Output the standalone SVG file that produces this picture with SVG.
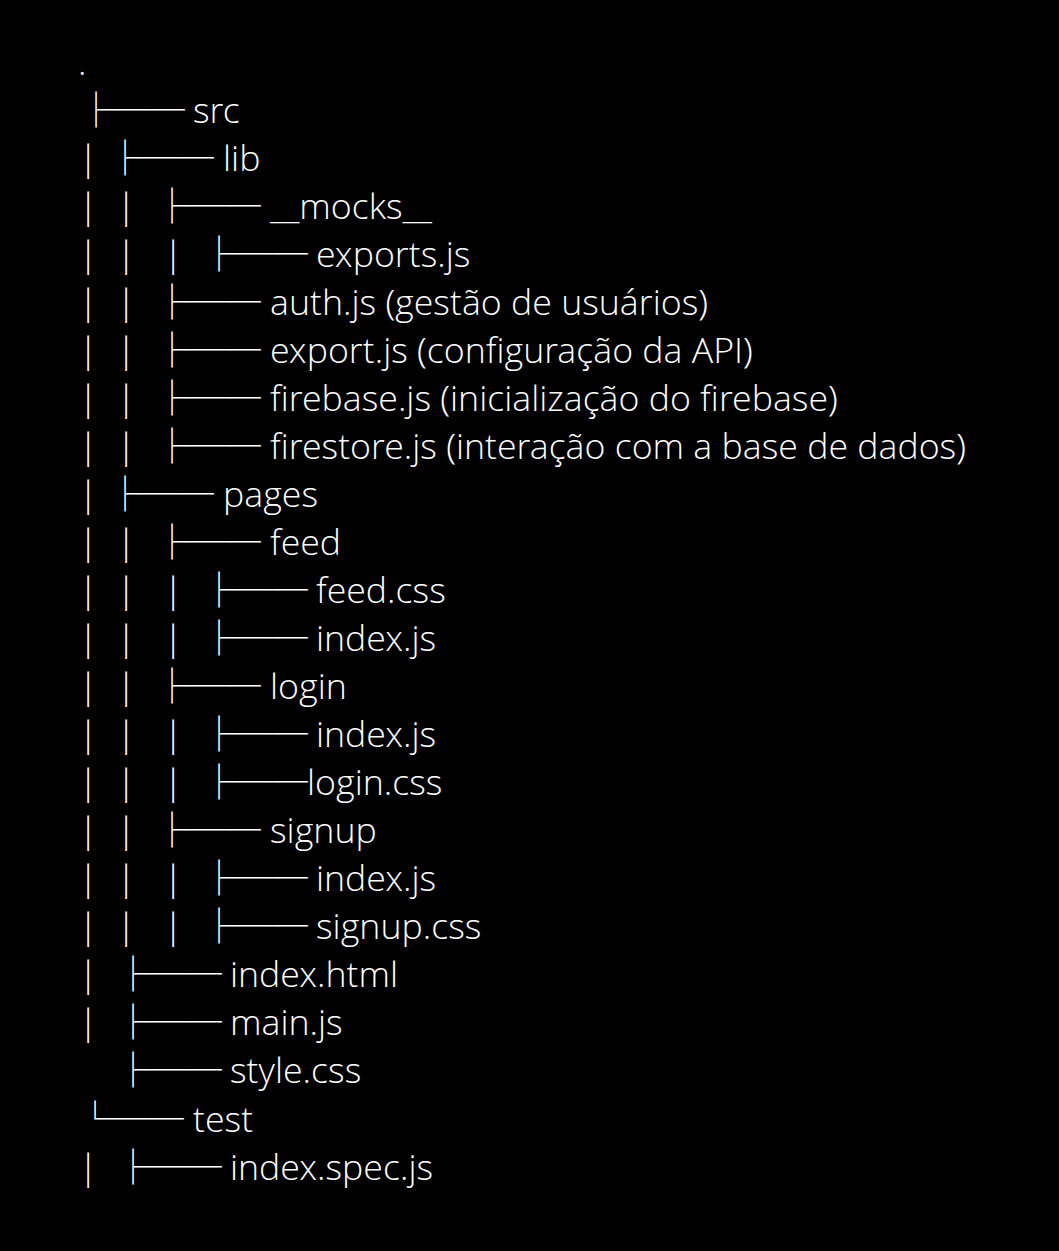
<svg xmlns="http://www.w3.org/2000/svg" width="1059" height="1251" viewBox="0 0 1059 1251">
<style>
.t{font-family:"Open Sans Light","Noto Sans","Open Sans","Liberation Sans",sans-serif;font-weight:300;font-size:35.7px;fill:#ffffff}
.b{font-family:"Noto Sans CJK JP","Noto Sans CJK SC","DejaVu Sans",sans-serif;font-weight:400;font-size:35.6px;fill:#ffffff}
.p{font-family:"Open Sans Light","Noto Sans","Open Sans","Liberation Sans",sans-serif;font-weight:300;font-size:35.5px;fill:#ffffff;text-anchor:middle}
</style>
<rect width="1059" height="1251" fill="#000000"/>
<g id="connectors">
<text class="b" x="78.2" y="122.5">├──</text>
<text class="p" x="88" y="170.5">|</text><text class="b" x="107.2" y="170.5">├──</text>
<text class="p" x="88" y="218.6">|</text><text class="p" x="126" y="218.6">|</text><text class="b" x="154.2" y="218.6">├──</text>
<text class="p" x="88" y="266.6">|</text><text class="p" x="126" y="266.6">|</text><text class="p" x="173" y="266.6">|</text><text class="b" x="201.2" y="266.6">├──</text>
<text class="p" x="88" y="314.7">|</text><text class="p" x="126" y="314.7">|</text><text class="b" x="154.2" y="314.7">├──</text>
<text class="p" x="88" y="362.7">|</text><text class="p" x="126" y="362.7">|</text><text class="b" x="154.2" y="362.7">├──</text>
<text class="p" x="88" y="410.8">|</text><text class="p" x="126" y="410.8">|</text><text class="b" x="154.2" y="410.8">├──</text>
<text class="p" x="88" y="458.8">|</text><text class="p" x="126" y="458.8">|</text><text class="b" x="154.2" y="458.8">├──</text>
<text class="p" x="88" y="506.9">|</text><text class="b" x="107.2" y="506.9">├──</text>
<text class="p" x="88" y="554.9">|</text><text class="p" x="126" y="554.9">|</text><text class="b" x="154.2" y="554.9">├──</text>
<text class="p" x="88" y="603">|</text><text class="p" x="126" y="603">|</text><text class="p" x="173" y="603">|</text><text class="b" x="201.2" y="603">├──</text>
<text class="p" x="88" y="651">|</text><text class="p" x="126" y="651">|</text><text class="p" x="173" y="651">|</text><text class="b" x="201.2" y="651">├──</text>
<text class="p" x="88" y="699">|</text><text class="p" x="126" y="699">|</text><text class="b" x="154.2" y="699">├──</text>
<text class="p" x="88" y="747.1">|</text><text class="p" x="126" y="747.1">|</text><text class="p" x="173" y="747.1">|</text><text class="b" x="201.2" y="747.1">├──</text>
<text class="p" x="88" y="795.1">|</text><text class="p" x="126" y="795.1">|</text><text class="p" x="173" y="795.1">|</text><text class="b" x="201.2" y="795.1">├──</text>
<text class="p" x="88" y="843.2">|</text><text class="p" x="126" y="843.2">|</text><text class="b" x="154.2" y="843.2">├──</text>
<text class="p" x="88" y="891.2">|</text><text class="p" x="126" y="891.2">|</text><text class="p" x="173" y="891.2">|</text><text class="b" x="201.2" y="891.2">├──</text>
<text class="p" x="88" y="939.3">|</text><text class="p" x="126" y="939.3">|</text><text class="p" x="173" y="939.3">|</text><text class="b" x="201.2" y="939.3">├──</text>
<text class="p" x="88" y="987.3">|</text><text class="b" x="115.2" y="987.3">├──</text>
<text class="p" x="88" y="1035.4">|</text><text class="b" x="115.2" y="1035.4">├──</text>
<text class="b" x="115.2" y="1083.4">├──</text>
<text class="b" x="77.2" y="1131.5">└──</text>
<text class="p" x="88" y="1179.5">|</text><text class="b" x="115.2" y="1179.5">├──</text>
</g>
<g id="root"><text class="t" x="78" y="74.5">.</text></g>
<g id="src"><text class="t" x="193" y="122.5">src</text></g>
<g id="lib"><text class="t" x="223" y="170.5">lib</text></g>
<g id="mocks"><text class="t" x="270" y="218.6">__mocks__</text></g>
<g id="mocks-exports"><text class="t" x="316" y="266.6">exports.js</text></g>
<g id="auth"><text class="t" x="270" y="314.7">auth.js (gestão de usuários)</text></g>
<g id="export"><text class="t" x="270" y="362.7">export.js (configuração da API)</text></g>
<g id="firebase"><text class="t" x="270" y="410.8">firebase.js (inicialização do firebase)</text></g>
<g id="firestore"><text class="t" x="270" y="458.8">firestore.js (interação com a base de dados)</text></g>
<g id="pages"><text class="t" x="223" y="506.9">pages</text></g>
<g id="feed"><text class="t" x="270" y="554.9">feed</text></g>
<g id="feed-css"><text class="t" x="316" y="603">feed.css</text></g>
<g id="feed-index"><text class="t" x="316" y="651">index.js</text></g>
<g id="login"><text class="t" x="270" y="699">login</text></g>
<g id="login-index"><text class="t" x="316" y="747.1">index.js</text></g>
<g id="login-css"><text class="t" x="307" y="795.1">login.css</text></g>
<g id="signup"><text class="t" x="270" y="843.2">signup</text></g>
<g id="signup-index"><text class="t" x="316" y="891.2">index.js</text></g>
<g id="signup-css"><text class="t" x="316" y="939.3">signup.css</text></g>
<g id="index-html"><text class="t" x="230" y="987.3">index.html</text></g>
<g id="main-js"><text class="t" x="230" y="1035.4">main.js</text></g>
<g id="style-css"><text class="t" x="230" y="1083.4">style.css</text></g>
<g id="test"><text class="t" x="193" y="1131.5">test</text></g>
<g id="index-spec"><text class="t" x="230" y="1179.5">index.spec.js</text></g>
</svg>
